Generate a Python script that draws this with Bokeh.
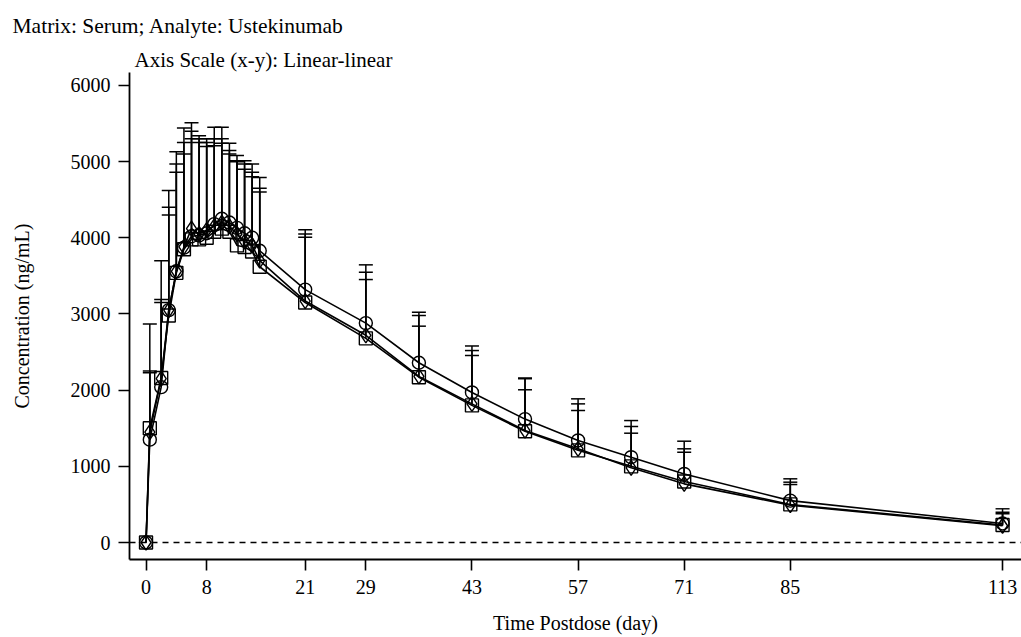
from bokeh.plotting import figure
from bokeh.models import ColumnDataSource, Whisker, TeeHead, Span, Title, FixedTicker, Range1d
from bokeh.embed import file_html
from bokeh.resources import INLINE

# ---- data ----
days = [0, 0.5, 2, 3, 4, 5, 6, 7, 8, 9, 10, 11, 12, 13, 14, 15, 21, 29, 36, 43, 50, 57, 64, 71, 85, 113]

mean_circle = [0, 1350, 2040, 3050, 3560, 3870, 4020, 4030, 4060, 4180, 4250, 4200, 4130, 4060, 4000, 3830,
               3320, 2880, 2360, 1970, 1620, 1340, 1120, 900, 550, 250]
sd_circle = [0, 1520, 1660, 1570, 1570, 1570, 1490, 1310, 1240, 1270, 1200, 1040, 950, 950, 970, 960,
             785, 765, 663, 610, 540, 546, 481, 430, 286, 192]

mean_square = [0, 1500, 2160, 2980, 3540, 3850, 3980, 3980, 4000, 4080, 4120, 4080, 3900, 3880, 3820, 3620,
               3150, 2680, 2170, 1800, 1460, 1210, 1000, 800, 500, 230]
sd_square = [0, 750, 1030, 1420, 1430, 1400, 1420, 1320, 1250, 1130, 1120, 1065, 1110, 1090, 1040, 1030,
             900, 868, 810, 720, 690, 610, 523, 430, 292, 168]

mean_diamond = [0, 1450, 2150, 3050, 3560, 3880, 4120, 4050, 4100, 4150, 4200, 4150, 4050, 3950, 3900, 3700,
                3170, 2720, 2180, 1820, 1470, 1230, 980, 770, 490, 220]
sd_diamond = [0, 780, 1000, 1250, 1300, 1220, 1180, 1200, 1100, 1150, 1100, 950, 950, 950, 900, 900,
              838, 732, 660, 635, 535, 503, 455, 415, 271, 157]

x_ticks = [0, 8, 21, 29, 43, 57, 71, 85, 113]
y_ticks = [0, 1000, 2000, 3000, 4000, 5000, 6000]
lloq = 0

FONT = "Liberation Serif"

p = figure(width=1021, height=637, output_backend="svg", toolbar_location=None,
           x_range=Range1d(-2.18, 115.5), y_range=Range1d(-223, 6170),
           min_border_left=129, min_border_right=0, min_border_top=72, min_border_bottom=78)
p.outline_line_color = None
p.xgrid.visible = False
p.ygrid.visible = False
p.background_fill_color = "white"
p.border_fill_color = "white"

p.add_layout(Span(location=lloq, dimension="width", line_color="black",
                  line_width=1.6, line_dash="6 5"))

series = [
    (mean_circle, sd_circle, "circle"),
    (mean_square, sd_square, "square"),
    (mean_diamond, sd_diamond, "diamond"),
]

for means, sds, marker in series:
    xs = [d for d, s in zip(days, sds) if s > 0]
    lo = [m for m, s in zip(means, sds) if s > 0]
    up = [m + s for m, s in zip(means, sds) if s > 0]
    wsrc = ColumnDataSource(dict(x=xs, lower=lo, upper=up))
    p.add_layout(Whisker(source=wsrc, base="x", lower="lower", upper="upper",
                         dimension="height", line_color="black", line_width=1.5,
                         lower_head=None,
                         upper_head=TeeHead(size=14, line_color="black", line_width=1.5)))
    p.line(days, means, line_color="black", line_width=1.6)
    size = 13 if marker != "diamond" else 15
    p.scatter(days, means, marker=marker, size=size, fill_color=None,
              line_color="black", line_width=1.4)

# axes
for ax in (p.xaxis[0], p.yaxis[0]):
    ax.axis_line_color = "black"
    ax.axis_line_width = 1.8
    ax.major_tick_line_color = "black"
    ax.major_tick_line_width = 1.6
    ax.major_tick_out = 11
    ax.major_tick_in = 0
    ax.minor_tick_line_color = None
    ax.major_label_text_font = FONT
    ax.major_label_text_font_size = "20px"
    ax.major_label_text_color = "black"
    ax.axis_label_text_font = FONT
    ax.axis_label_text_font_size = "20px"
    ax.axis_label_text_font_style = "normal"
    ax.axis_label_text_color = "black"

p.xaxis.ticker = FixedTicker(ticks=x_ticks)
p.yaxis.ticker = FixedTicker(ticks=y_ticks)
p.xaxis.axis_label = "Time Postdose (day)"
p.yaxis.axis_label = "Concentration (ng/mL)"
p.xaxis.major_label_standoff = 9
p.yaxis.major_label_standoff = 8
p.xaxis.axis_label_standoff = 15
p.yaxis.axis_label_standoff = 35

# headings (first added sits closest to the frame)
p.add_layout(Title(text="Axis Scale (x-y): Linear-linear", text_font=FONT,
                   text_font_size="21px", text_font_style="normal", text_color="black",
                   align="left", offset=5, standoff=2), "above")
p.add_layout(Title(text="Matrix: Serum; Analyte: Ustekinumab", text_font=FONT,
                   text_font_size="21.5px", text_font_style="normal", text_color="black",
                   align="left", offset=-117, standoff=14), "above")

open("out.html", "w").write(file_html(p, INLINE))
